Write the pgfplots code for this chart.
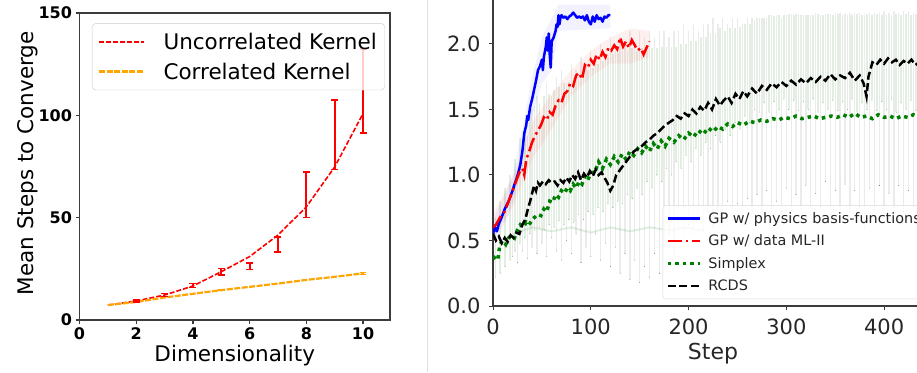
\documentclass[border=0pt]{standalone}
\usepackage{pgfplots}
\pgfplotsset{compat=1.18}
\usepackage{fontspec}
\setmainfont{DejaVu Sans}
\definecolor{mplgreen}{RGB}{0,128,0}
\definecolor{mplorange}{RGB}{255,165,0}
\definecolor{mplred}{RGB}{255,0,0}
\definecolor{spine}{RGB}{60,60,60}
\definecolor{txt}{RGB}{38,38,38}
\pgfplotsset{nomark/.style={only marks, mark=*, mark size=0.01pt, mark options={draw=none, fill=none}}}
\begin{document}
\begin{tikzpicture}
\useasboundingbox (0pt,0pt) rectangle (917pt,372pt);
\clip (0pt,0pt) rectangle (917pt,372pt);
\fill[white] (0pt,0pt) rectangle (917pt,372pt);
\draw[black!12, line width=0.8pt] (427pt,0pt) -- (427pt,372pt);
% ---------------- left panel ----------------
\begin{axis}[
 at={(79.5pt,52pt)}, anchor=south west, scale only axis,
 width=310.5pt, height=307pt,
 xmin=0, xmax=10.95, ymin=0, ymax=150,
 xtick={0,2,4,6,8,10}, ytick={0,50,100,150},
 tick align=outside, tick pos=left, major tick length=4pt,
 axis line style={spine, line width=1.5pt},
 every tick/.style={spine, line width=1.2pt},
 /pgf/number format/assume math mode=true,
 ticklabel style={font=\bfseries\fontsize{16}{16}\selectfont, text=black},
 xlabel={Dimensionality}, ylabel={Mean Steps to Converge},
 label style={font=\fontsize{21.5}{21.5}\selectfont, text=black},
 xlabel style={at={(axis description cs:0.5,-0.117)}, anchor=center},
 ylabel style={at={(axis description cs:-0.166,0.511)}, anchor=center},
 legend style={at={(0.04,0.967)}, anchor=north west, font=\fontsize{21.5}{21.5}\selectfont, draw=black!20, rounded corners=4pt, fill=white, fill opacity=0.8, text opacity=1, draw opacity=1, inner xsep=6pt, inner ysep=7.5pt, row sep=8pt, /tikz/every odd column/.append style={column sep=16pt}},
 legend cell align=left,
 legend image code/.code={\draw[#1] (0pt,0pt) -- (45pt,0pt);},
]
\addlegendimage{mplred, dash pattern=on 5pt off 2pt, line width=1.9pt, opacity=1}
\addlegendentry{Uncorrelated Kernel}
\addlegendimage{mplorange, dash pattern=on 6pt off 1.5pt, line width=2.4pt, opacity=1}
\addlegendentry{Correlated Kernel}
\addplot[mplred, dash pattern=on 5pt off 2pt, line width=1.6pt, line join=round, forget plot] coordinates {(1,7.3)(2,9.3)(3,12.2)(4,16.6)(5,23.6)(6,31)(7,41.5)(8,55.3)(9,74.8)(10,100.9)};
\addplot[mplorange, dash pattern=on 6pt off 1.5pt, line width=2.2pt, line join=round, forget plot] coordinates {(1,7.3)(2,8.8)(3,11)(4,12.8)(5,14.6)(6,16.2)(7,17.8)(8,19.6)(9,21.1)(10,22.8)};
\addplot[mplred, draw=none, mark=none, forget plot, error bars/.cd, y dir=both, y explicit, error bar style={draw=mplred, solid, line width=1.8pt}, error mark options={draw=mplred, solid, rotate=90, mark size=3.5pt, line width=1.6pt}] coordinates {
(2,9.3) +- (0,0.6) (3,12.2) +- (0,0.8) (4,16.9) +- (0,1.0) (5,23.6) +- (0,1.6) (6,26.3) +- (0,1.6) (7,37) +- (0,3.7) (8,61.2) +- (0,11.1) (9,90.5) +- (0,17) (10,111.8) +- (0,20.5)};
\addplot[mplorange, draw=none, mark=none, forget plot, error bars/.cd, y dir=both, y explicit, error bar style={draw=mplorange, solid, line width=1.4pt}, error mark options={draw=mplorange, solid, rotate=90, mark size=3pt, line width=1.2pt}] coordinates {
(5,14.6) +- (0,0.3) (10,22.8) +- (0,0.6)};
\end{axis}
% ---------------- right panel ----------------
\begin{axis}[
 at={(493pt,66pt)}, anchor=south west, scale only axis,
 width=440pt, height=314.4pt,
 xmin=0, xmax=450, ymin=0, ymax=2.4,
 xtick={0,100,200,300,400}, ytick={0,0.5,1,1.5,2}, yticklabels={0.0,0.5,1.0,1.5,2.0},
 tick align=outside, tick pos=left, major tick length=4pt,
 axis line style={spine, line width=1.2pt},
 every tick/.style={spine, line width=1pt},
 /pgf/number format/assume math mode=true,
 ticklabel style={font=\fontsize{21}{21}\selectfont, text=txt},
 xticklabel style={yshift=-5pt}, yticklabel style={xshift=-5pt},
 xlabel={Step}, label style={font=\fontsize{22}{22}\selectfont, text=txt},
 xlabel style={at={(axis description cs:0.5,-0.153)}, anchor=center},
 legend style={at={(0.984,0.022)}, anchor=south east, font=\fontsize{14.4}{14.4}\selectfont, text=txt, draw=black!15, rounded corners=3pt, fill=white, fill opacity=0.8, text opacity=1, inner ysep=5pt, row sep=6pt, /tikz/every odd column/.append style={column sep=5pt}},
 legend cell align=left,
 legend image code/.code={\draw[#1] (0pt,0pt) -- (32pt,0pt);},
]
% faded individual runs (RCDS, gray)
\addplot[black, nomark, forget plot, error bars/.cd, y dir=plus, y explicit, error mark=none, error bar style={black, opacity=0.08, line width=1.4pt}] coordinates {
(20,0.38) += (0,0.47) (25,0.33) += (0,0.67) (30,0.42) += (0,0.68) (35,0.36) += (0,0.94) (40,0.45) += (0,1.05)
(45,0.40) += (0,1.20) (50,0.48) += (0,0.97) (55,0.38) += (0,1.32) (60,0.52) += (0,1.08) (65,0.42) += (0,1.33)
(70,0.35) += (0,1.45) (75,0.50) += (0,1.20) (80,0.40) += (0,1.45) (85,0.55) += (0,1.25) (90,0.33) += (0,1.57)
(95,0.45) += (0,1.40) (100,0.38) += (0,1.57) (105,0.55) += (0,1.35) (110,0.35) += (0,1.65) (115,0.48) += (0,1.42)
(120,0.30) += (0,1.75) (125,0.45) += (0,1.50) (130,0.25) += (0,1.80) (135,0.40) += (0,1.60) (140,0.20) += (0,1.90)
(145,0.35) += (0,1.65) (150,0.18) += (0,1.92) (155,0.30) += (0,1.75) (160,0.22) += (0,1.88) (165,0.40) += (0,1.65)
(170,0.25) += (0,1.85) (175,0.45) += (0,1.65) (180,0.55) += (0,1.50) (185,0.40) += (0,1.70) (190,0.60) += (0,1.50)
(195,0.50) += (0,1.65) (200,0.62) += (0,1.48) (205,0.55) += (0,1.60) (210,0.70) += (0,1.40) (215,0.58) += (0,1.57)
(220,0.72) += (0,1.43) (225,0.60) += (0,1.60) (230,0.75) += (0,1.40) (235,0.62) += (0,1.58) (240,0.80) += (0,1.35)
(245,0.65) += (0,1.55) (250,0.78) += (0,1.42) (255,0.62) += (0,1.53) (260,0.82) += (0,1.38) (265,0.68) += (0,1.52)
(270,0.85) += (0,1.35) (275,0.70) += (0,1.50) (280,0.88) += (0,1.32) (285,0.66) += (0,1.56) (290,0.80) += (0,1.42)
(295,0.72) += (0,1.48) (300,0.90) += (0,1.32) (305,0.68) += (0,1.55) (310,0.85) += (0,1.38) (315,0.74) += (0,1.48)
(320,0.92) += (0,1.30) (325,0.70) += (0,1.52) (330,0.86) += (0,1.38) (335,0.76) += (0,1.46) (340,0.95) += (0,1.28)
(345,0.70) += (0,1.53) (350,0.88) += (0,1.36) (355,0.74) += (0,1.50) (360,0.93) += (0,1.30) (365,0.72) += (0,1.52)
(370,0.88) += (0,1.36) (375,0.76) += (0,1.48) (380,0.60) += (0,1.62) (385,0.90) += (0,1.34) (390,0.74) += (0,1.50)
(395,0.92) += (0,1.32) (400,0.70) += (0,1.55) (405,0.86) += (0,1.38) (410,0.75) += (0,1.50) (415,0.92) += (0,1.32)
(420,0.72) += (0,1.53) (425,0.88) += (0,1.37) (430,0.76) += (0,1.48) (435,0.90) += (0,1.34) (440,0.74) += (0,1.50)
(445,0.88) += (0,1.36) (450,0.78) += (0,1.45)};
% faded individual runs (Simplex, green)
\addplot[mplgreen, nomark, forget plot, error bars/.cd, y dir=plus, y explicit, error mark=none, error bar style={mplgreen, opacity=0.12, line width=1.8pt}] coordinates {
(2.5,0.22) += (0,0.45) (7.5,0.25) += (0,0.55) (12.5,0.30) += (0,0.60) (17.5,0.35) += (0,0.65) (22.5,0.42) += (0,0.70)
(27.5,0.48) += (0,0.80) (32.5,0.52) += (0,0.85) (37.5,0.55) += (0,0.90) (42.5,0.58) += (0,0.95) (47.5,0.60) += (0,0.95)
(52.5,0.58) += (0,1.02) (57.5,0.62) += (0,1.00) (62.5,0.60) += (0,1.05) (67.5,0.65) += (0,1.02) (72.5,0.62) += (0,1.08)
(77.5,0.66) += (0,1.05) (82.5,0.64) += (0,1.10) (87.5,0.70) += (0,1.05) (92.5,0.66) += (0,1.12) (97.5,0.72) += (0,1.08)
(102.5,0.70) += (0,1.12) (107.5,0.75) += (0,1.10) (112.5,0.72) += (0,1.15) (117.5,0.78) += (0,1.12) (122.5,0.75) += (0,1.17)
(127.5,0.80) += (0,1.13) (132.5,0.78) += (0,1.17) (137.5,0.85) += (0,1.10) (142.5,0.82) += (0,1.15) (147.5,0.90) += (0,1.05)
(152.5,0.85) += (0,1.12) (157.5,0.95) += (0,1.00) (162.5,0.90) += (0,1.07) (167.5,1.00) += (0,0.97) (172.5,0.95) += (0,1.03)
(177.5,1.05) += (0,0.93) (182.5,1.00) += (0,0.98) (187.5,1.10) += (0,0.88) (192.5,1.05) += (0,0.95) (197.5,1.15) += (0,0.85)
(202.5,1.10) += (0,0.92) (207.5,1.20) += (0,0.82) (212.5,1.15) += (0,0.90) (217.5,1.25) += (0,0.80) (222.5,1.20) += (0,0.88)
(227.5,1.30) += (0,0.78) (232.5,1.25) += (0,0.87) (237.5,1.35) += (0,0.75) (242.5,1.30) += (0,0.82) (247.5,1.40) += (0,0.72)
(252.5,1.35) += (0,0.78) (257.5,1.45) += (0,0.70) (262.5,1.40) += (0,0.75) (267.5,1.50) += (0,0.68) (272.5,1.48) += (0,0.72)
(277.5,1.55) += (0,0.65) (282.5,1.48) += (0,0.74) (287.5,1.56) += (0,0.65) (292.5,1.50) += (0,0.72) (297.5,1.58) += (0,0.64)
(302.5,1.50) += (0,0.73) (307.5,1.57) += (0,0.65) (312.5,1.49) += (0,0.74) (317.5,1.56) += (0,0.66) (322.5,1.50) += (0,0.72)
(327.5,1.58) += (0,0.64) (332.5,1.48) += (0,0.75) (337.5,1.55) += (0,0.67) (342.5,1.50) += (0,0.73) (347.5,1.57) += (0,0.65)
(352.5,1.49) += (0,0.74) (357.5,1.56) += (0,0.66) (362.5,1.50) += (0,0.72) (367.5,1.58) += (0,0.64) (372.5,1.48) += (0,0.75)
(377.5,1.55) += (0,0.67) (382.5,1.50) += (0,0.73) (387.5,1.57) += (0,0.65) (392.5,1.49) += (0,0.74) (397.5,1.56) += (0,0.66)
(402.5,1.50) += (0,0.72) (407.5,1.58) += (0,0.64) (412.5,1.48) += (0,0.75) (417.5,1.55) += (0,0.67) (422.5,1.50) += (0,0.73)
(427.5,1.57) += (0,0.65) (432.5,1.49) += (0,0.74) (437.5,1.56) += (0,0.66) (442.5,1.50) += (0,0.72) (447.5,1.58) += (0,0.64)};
\addplot[mplgreen, opacity=0.12, line width=2pt, forget plot] coordinates {(20,0.55)(40,0.6)(60,0.57)(80,0.6)(100,0.56)(120,0.6)(140,0.57)(160,0.6)(180,0.58)(200,0.6)(215,0.57)};
% faded spread of GP runs
\addplot[blue, fill=blue, fill opacity=0.05, draw=none, forget plot] coordinates {(0,0.65)(10,0.82)(20,1.0)(30,1.35)(40,1.75)(50,2.05)(60,2.2)(67,2.3)(120,2.3)(120,2.12)(67,2.1)(60,1.8)(50,1.7)(40,1.45)(30,1.05)(20,0.78)(10,0.6)(0,0.48)} -- cycle;
\addplot[red, fill=red, fill opacity=0.06, draw=none, forget plot] coordinates {(0,0.7)(20,0.98)(40,1.4)(60,1.62)(80,1.8)(100,1.95)(120,2.05)(140,2.12)(160,2.1)(160,1.9)(140,1.85)(120,1.85)(100,1.75)(80,1.6)(60,1.35)(40,1.12)(20,0.75)(0,0.5)} -- cycle;
% mean curves
\addplot[blue, line width=2.5pt, line join=round] coordinates {
(0,0.55)(2,0.6)(4,0.57)(6,0.63)(8,0.66)(10,0.70)(12,0.74)(14,0.77)(16,0.80)(18,0.84)(20,0.88)(22,0.93)(24,0.97)(26,1.02)(28,1.08)(30,1.18)(31,1.25)(32,1.32)(34,1.38)(35,1.45)(36,1.42)(38,1.52)(40,1.58)(42,1.65)(44,1.72)(46,1.80)(48,1.83)(50,1.88)(51,1.80)(52,1.90)(54,1.98)(55,2.05)(56,1.95)(57,2.08)(58,1.92)(59,1.82)(60,2.02)(62,2.05)(64,2.10)(65,2.15)(66,2.13)(67,2.22)(68,2.15)(69,2.2)(70,2.22)(72,2.2)(74,2.21)(76,2.19)(78,2.21)(80,2.22)(82,2.24)(84,2.22)(86,2.2)(88,2.21)(90,2.2)(92,2.21)(94,2.18)(96,2.22)(98,2.17)(100,2.15)(102,2.21)(104,2.17)(106,2.22)(108,2.19)(110,2.2)(112,2.17)(114,2.21)(116,2.2)(118,2.22)(120,2.22)};
\addlegendentry{GP w/ physics basis-functions}
\addplot[red, line width=2.5pt, dash pattern=on 14pt off 4pt on 2.5pt off 4pt] coordinates {
(0,0.6)(3,0.62)(6,0.66)(9,0.7)(12,0.72)(15,0.78)(18,0.84)(21,0.9)(24,0.96)(27,1.02)(30,1.05)(32,1.0)(34,1.12)(37,1.18)(40,1.25)(43,1.3)(46,1.34)(49,1.38)(52,1.44)(55,1.42)(58,1.48)(61,1.46)(64,1.53)(67,1.57)(70,1.55)(73,1.62)(76,1.64)(79,1.70)(82,1.68)(85,1.76)(88,1.78)(91,1.73)(94,1.84)(97,1.82)(100,1.88)(103,1.85)(106,1.92)(109,1.88)(112,1.94)(115,1.90)(118,1.97)(121,1.95)(124,1.99)(127,1.96)(130,2.05)(133,1.98)(136,2.02)(139,1.97)(142,2.03)(145,1.99)(148,1.95)(151,1.97)(154,1.92)(157,1.97)(160,2.02)};
\addlegendentry{GP w/ data ML-II}
\addplot[mplgreen, line width=3.5pt, dash pattern=on 3.5pt off 4pt] coordinates {
(0,0.36)(3,0.38)(5,0.36)(7,0.47)(10,0.50)(13,0.47)(16,0.52)(19,0.54)(22,0.52)(25,0.58)(28,0.62)(31,0.60)(34,0.64)(37,0.62)(40,0.66)(43,0.68)(46,0.70)(49,0.69)(52,0.74)(55,0.72)(58,0.80)(61,0.79)(64,0.85)(67,0.83)(70,0.88)(73,0.86)(76,0.9)(79,0.88)(82,0.93)(85,0.9)(88,0.95)(91,0.93)(94,0.99)(97,0.96)(100,1.02)(104,1.02)(108,1.10)(112,1.05)(116,1.12)(120,1.08)(124,1.14)(128,1.10)(132,1.16)(136,1.12)(140,1.18)(144,1.15)(148,1.20)(152,1.17)(156,1.22)(160,1.18)(164,1.24)(168,1.20)(172,1.26)(176,1.22)(180,1.28)(185,1.25)(190,1.30)(195,1.27)(200,1.32)(205,1.29)(210,1.34)(215,1.31)(220,1.36)(225,1.33)(230,1.37)(235,1.35)(240,1.39)(245,1.37)(250,1.40)(256,1.38)(262,1.41)(268,1.40)(274,1.42)(280,1.41)(286,1.43)(292,1.42)(298,1.44)(304,1.43)(310,1.45)(316,1.43)(322,1.44)(328,1.45)(334,1.43)(340,1.44)(346,1.45)(352,1.44)(358,1.46)(364,1.44)(370,1.47)(376,1.44)(382,1.45)(388,1.43)(394,1.46)(400,1.44)(406,1.45)(412,1.43)(418,1.45)(424,1.44)(430,1.46)(436,1.44)(442,1.45)(450,1.44)};
\addlegendentry{Simplex}
\addplot[black, line width=2.5pt, dash pattern=on 8pt off 3.5pt] coordinates {
(0,0.55)(3,0.50)(6,0.53)(9,0.48)(12,0.52)(15,0.49)(18,0.54)(21,0.52)(24,0.56)(27,0.55)(30,0.62)(33,0.66)(36,0.75)(38,0.80)(40,0.86)(42,0.92)(44,0.88)(46,0.94)(48,0.92)(51,0.95)(54,0.93)(57,0.96)(60,0.94)(63,0.95)(66,0.92)(69,0.96)(72,0.94)(75,0.98)(78,0.95)(81,1.0)(84,0.97)(87,1.02)(90,0.96)(93,1.01)(96,0.98)(99,1.03)(102,0.99)(105,1.04)(108,1.0)(111,1.02)(114,0.98)(117,0.94)(120,0.88)(123,0.92)(126,1.0)(129,1.03)(132,1.06)(136,1.10)(140,1.14)(144,1.18)(148,1.20)(152,1.22)(156,1.25)(160,1.27)(164,1.30)(168,1.32)(172,1.35)(176,1.38)(180,1.40)(184,1.42)(188,1.45)(192,1.43)(196,1.47)(200,1.45)(204,1.50)(208,1.47)(212,1.52)(216,1.49)(220,1.55)(224,1.50)(228,1.58)(232,1.53)(236,1.57)(240,1.60)(244,1.55)(248,1.62)(252,1.58)(256,1.64)(260,1.60)(265,1.66)(270,1.62)(275,1.68)(280,1.65)(285,1.70)(290,1.67)(295,1.71)(300,1.68)(305,1.72)(310,1.69)(315,1.73)(320,1.70)(325,1.74)(330,1.71)(335,1.75)(340,1.72)(345,1.77)(350,1.73)(355,1.76)(360,1.74)(365,1.78)(370,1.72)(375,1.76)(379,1.70)(382,1.60)(384,1.75)(388,1.86)(392,1.84)(396,1.88)(400,1.85)(404,1.89)(408,1.86)(412,1.88)(416,1.84)(420,1.87)(424,1.85)(428,1.88)(432,1.84)(436,1.86)(440,1.83)(445,1.86)(450,1.85)};
\addlegendentry{RCDS}
\end{axis}
\end{tikzpicture}
\end{document}
